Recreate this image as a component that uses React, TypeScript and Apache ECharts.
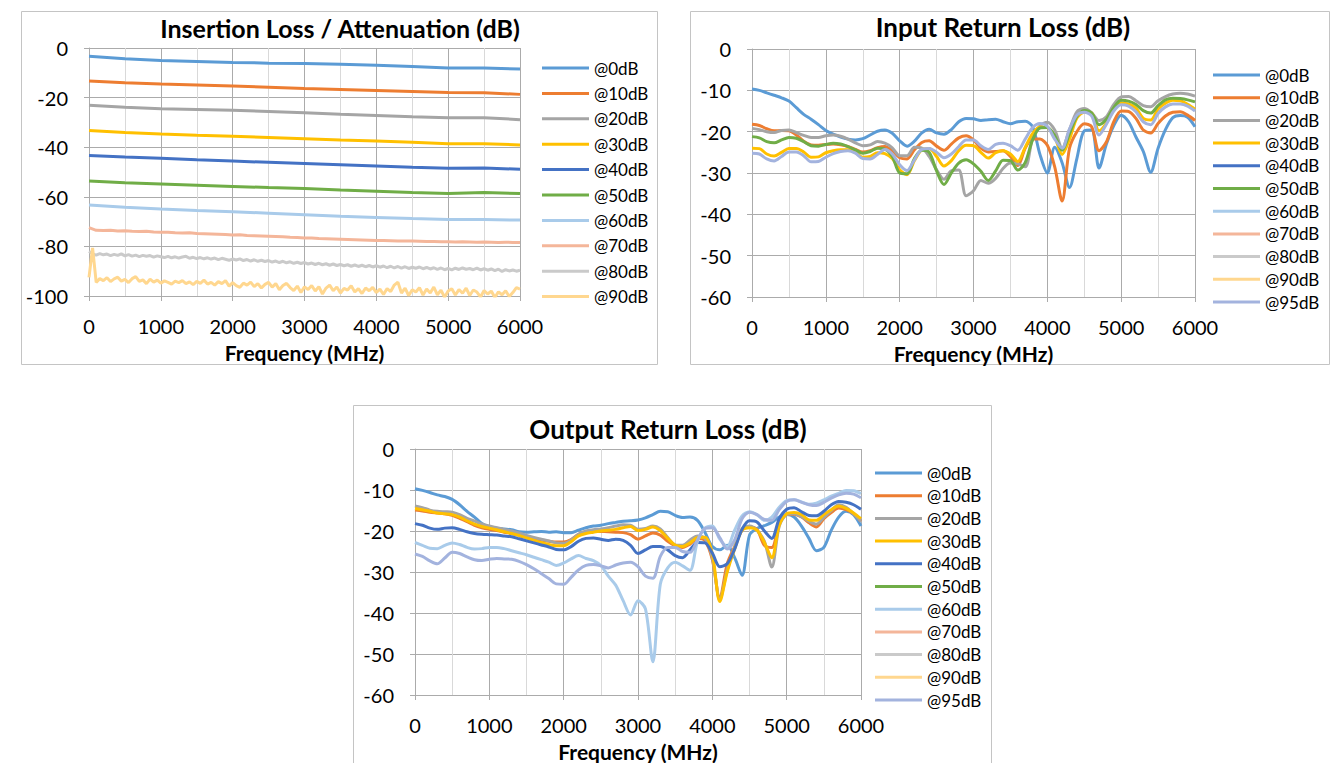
import React, { useEffect, useRef } from "react";
import * as echarts from "echarts";

const FONT = "Lato, 'Liberation Sans', sans-serif";
const MAJOR = "#ABABAB";
const MINOR = "#D9D9D9";

const NAMES = ["@0dB", "@10dB", "@20dB", "@30dB", "@40dB", "@50dB", "@60dB", "@70dB", "@80dB", "@90dB", "@95dB"];
const COLORS = ["#5B9BD5", "#ED7D31", "#A5A5A5", "#FFC000", "#4472C4", "#70AD47", "#A9CBEA", "#F4B69A", "#CACACA", "#FFD78F", "#A3B3DE"];

const TITLES = ["Insertion Loss / Attenuation (dB)", "Input Return Loss (dB)", "Output Return Loss (dB)"];
const X_NAME = "Frequency (MHz)";

// sampling steps (MHz) of the read values
const STEP_500 = 500;
const STEP_100 = 100;
const STEP_50 = 50;
const F_MAX = 6000;

// ---------- Insertion Loss / Attenuation (dB) ----------
const il0 = [-3.3, -4.3, -5.0, -5.4, -5.8, -6.1, -6.3, -6.6, -7.0, -7.5, -8.1, -8.1, -8.5];
const il10 = [-13.3, -14.0, -14.5, -14.9, -15.3, -15.8, -16.3, -16.7, -17.1, -17.5, -17.9, -18.0, -18.7];
const il20 = [-23.1, -23.9, -24.5, -24.8, -25.1, -25.6, -26.1, -26.7, -27.2, -27.7, -28.1, -28.1, -28.9];
const il30 = [-33.3, -34.1, -34.7, -35.2, -35.6, -36.1, -36.6, -37.1, -37.5, -38.0, -38.6, -38.6, -39.1];
const il40 = [-43.3, -44.0, -44.5, -45.1, -45.6, -46.1, -46.6, -47.1, -47.6, -48.1, -48.5, -48.4, -48.9];
const il50 = [-53.6, -54.3, -54.8, -55.3, -55.8, -56.3, -56.7, -57.3, -57.8, -58.3, -58.7, -58.3, -58.7];
const il60 = [-63.3, -64.2, -64.9, -65.5, -66.0, -66.6, -67.2, -67.8, -68.3, -68.8, -69.2, -69.2, -69.4];
const il70 = [
  -72.4, -73.5, -73.6, -73.5, -73.8, -73.7, -73.9, -74.0, -73.9, -74.2,
  -74.3, -74.3, -74.5, -74.6, -74.5, -74.8, -74.9, -75.0, -75.1, -75.2,
  -75.4, -75.3, -75.6, -75.7, -75.8, -75.9, -76.0, -76.1, -76.3, -76.4,
  -76.6, -76.6, -76.8, -76.9, -77.0, -77.1, -77.2, -77.3, -77.4, -77.5,
  -77.6, -77.6, -77.7, -77.8, -77.8, -77.8, -77.9, -78.0, -78.0, -78.1,
  -78.1, -78.2, -78.1, -78.2, -78.3, -78.2, -78.3, -78.4, -78.3, -78.4,
  -78.4,
];
const il80 = [
  -82.0, -83.0, -83.5, -82.9, -83.4, -83.1, -83.7, -83.2, -83.6, -83.0,
  -83.8, -83.3, -83.9, -83.5, -84.1, -83.6, -84.0, -83.7, -84.3, -83.8,
  -84.2, -84.5, -84.0, -84.6, -84.2, -84.7, -84.3, -84.0, -84.8, -84.4,
  -84.9, -84.5, -85.0, -84.6, -85.1, -84.7, -85.3, -84.8, -85.2, -85.6,
  -85.1, -85.5, -85.0, -85.7, -85.3, -85.9, -85.4, -86.0, -85.6, -86.1,
  -85.7, -86.3, -85.9, -86.5, -86.0, -86.6, -86.2, -86.8, -86.4, -86.9,
  -86.5, -87.1, -86.7, -87.3, -86.8, -87.4, -87.0, -87.6, -87.1, -87.7,
  -87.3, -87.8, -87.4, -88.0, -87.5, -88.1, -87.6, -88.2, -87.7, -88.3,
  -87.8, -88.4, -87.9, -88.6, -88.0, -88.7, -88.1, -88.8, -88.2, -88.9,
  -88.4, -88.8, -88.3, -89.0, -88.5, -89.1, -88.6, -89.3, -88.7, -89.4,
  -88.9, -89.5, -88.8, -89.3, -88.7, -89.2, -88.9, -89.4, -88.8, -89.5,
  -89.0, -89.6, -89.1, -89.8, -89.2, -90.1, -89.4, -89.9, -89.5, -90.0,
  -89.6,
];
const il90 = [
  -92.5, -80.6, -94.5, -93.0, -93.8, -92.6, -94.2, -93.1, -92.4, -94.0,
  -93.3, -94.6, -93.0, -92.2, -94.1, -93.5, -95.0, -93.2, -94.4, -93.6,
  -94.8, -93.9, -94.5, -95.2, -94.0, -94.6, -93.8, -95.0, -94.3, -95.4,
  -94.1, -94.9, -93.6, -95.2, -94.5, -95.6, -94.2, -95.0, -93.8, -96.0,
  -94.6, -95.8, -96.5, -94.8, -95.6, -94.4, -96.2, -95.0, -96.8, -95.3,
  -94.5, -96.4, -95.0, -97.5, -95.8, -94.9, -96.6, -97.8, -96.0, -98.6,
  -96.3, -97.4, -95.8, -98.0, -96.2, -99.2, -96.8, -95.6, -97.9, -96.4,
  -98.8, -96.9, -97.6, -95.9, -98.4, -97.0, -99.0, -96.8, -97.9, -96.5,
  -98.6, -97.2, -99.4, -97.0, -98.2, -95.6, -94.4, -98.8, -96.8, -99.8,
  -97.5, -98.4, -96.6, -99.6, -97.2, -98.8, -96.4, -99.5, -97.6, -100.5,
  -98.0, -97.1, -99.6, -97.4, -98.9, -96.8, -99.8, -97.6, -98.4, -100.4,
  -97.8, -99.2, -98.0, -100.6, -98.3, -99.5, -97.9, -100.2, -98.6, -96.6,
  -97.2,
];

// ---------- Input Return Loss (dB), every 100 MHz ----------
const irl0 = [
  -9.7, -10.0, -10.6, -11.2, -11.8, -12.6, -14.2, -15.8, -17.0, -18.3,
  -19.7, -20.6, -21.3, -21.8, -22.0, -21.7, -20.8, -19.9, -19.6, -20.4,
  -22.2, -23.5, -22.3, -20.3, -19.4, -20.3, -20.6, -19.5, -17.6, -16.8,
  -16.9, -17.3, -17.1, -17.0, -17.6, -18.1, -17.6, -17.5, -18.8, -25.5,
  -30.0, -23.8, -27.5, -33.5, -26.5, -19.8, -19.6, -28.8, -23.0, -18.5,
  -16.0, -17.6, -21.3, -24.8, -29.8, -24.0, -19.5, -16.6, -16.1, -16.5,
  -18.8,
];
const irl10 = [
  -18.2, -18.5, -19.3, -19.8, -19.7, -19.8, -20.8, -22.3, -23.2, -23.3,
  -23.1, -23.0, -23.2, -23.6, -24.3, -24.9, -24.6, -23.9, -23.6, -24.6,
  -26.3, -26.6, -24.4, -22.6, -22.2, -23.5, -24.5, -23.0, -21.5, -21.0,
  -22.0, -24.0, -24.9, -24.8, -24.6, -26.0, -28.2, -24.0, -21.8, -21.8,
  -23.3, -28.5, -36.8, -24.0, -20.0, -18.1, -18.8, -24.6, -22.5, -17.6,
  -15.0, -15.1, -16.8, -19.6, -20.3, -18.0, -16.2, -15.3, -15.2, -16.0,
  -17.3,
];
const irl20 = [
  -19.2, -19.5, -20.0, -20.2, -19.7, -19.6, -20.2, -20.9, -21.4, -21.4,
  -21.0, -20.8, -21.1, -21.8, -22.7, -23.4, -23.2, -22.4, -22.8, -23.9,
  -25.8, -25.8, -23.8, -24.0, -26.0, -29.2, -31.5, -29.5, -29.3, -35.5,
  -34.3, -31.8, -32.5, -31.3, -28.9, -27.6, -27.8, -28.5, -21.6, -18.6,
  -17.7, -19.6, -24.0, -19.5, -15.2, -14.4, -15.4, -17.3, -16.4, -13.4,
  -11.6, -11.5, -12.5, -13.7, -14.0, -12.5, -11.5, -10.9, -10.7, -10.9,
  -11.4,
];
const irl30 = [
  -24.0, -24.1, -25.4, -25.9, -25.0, -24.1, -24.1, -24.9, -26.2, -26.1,
  -25.1, -24.6, -24.4, -24.4, -25.0, -26.2, -26.0, -25.1, -25.3, -26.5,
  -29.2, -30.4, -27.0, -24.4, -24.1, -26.0, -28.3, -27.0, -24.6, -23.3,
  -23.4, -25.0, -26.4, -25.1, -24.6, -25.4, -27.2, -23.8, -20.5, -18.9,
  -19.0, -21.3, -25.5, -21.8, -16.7, -15.3, -15.5, -19.8, -17.9, -14.6,
  -13.1, -13.3, -14.3, -16.8, -17.2, -14.5, -13.1, -12.4, -12.5, -13.4,
  -14.6,
];
const irl50 = [
  -21.2, -21.5, -22.4, -22.7, -22.0, -21.4, -21.6, -22.4, -23.4, -23.5,
  -23.1, -22.8, -23.0, -23.6, -24.4, -25.2, -24.8, -24.0, -24.2, -26.0,
  -30.0, -30.2, -26.5, -24.5, -25.0, -29.5, -32.8, -30.0, -27.6, -26.8,
  -27.8, -29.6, -31.8, -29.5, -26.9, -27.0, -29.3, -27.5, -22.0, -19.1,
  -19.0, -21.0, -24.5, -20.5, -16.3, -14.9, -15.5, -18.3, -17.0, -14.2,
  -12.4, -12.6, -13.4, -14.9, -15.5, -13.7, -12.3, -11.9, -12.0, -12.3,
  -12.8,
];
const irl95 = [
  -25.2, -25.4, -26.6, -27.1, -26.0, -24.9, -24.9, -25.8, -27.3, -27.2,
  -26.2, -25.3, -24.8, -24.6, -25.2, -26.5, -26.6, -25.5, -24.3, -25.4,
  -28.0, -29.4, -26.8, -24.3, -24.1, -25.0, -26.3, -25.4, -23.6, -22.0,
  -22.0, -23.4, -24.3, -23.1, -22.8, -23.4, -24.5, -21.8, -19.0, -18.0,
  -18.7, -21.8, -24.0, -19.4, -16.0, -15.3, -16.2, -20.8, -18.2, -15.0,
  -13.5, -13.8, -15.2, -17.6, -18.3, -15.6, -14.0, -13.3, -13.3, -13.8,
  -15.0,
];

// ---------- Output Return Loss (dB), every 100 MHz ----------
const orl0 = [
  -9.7, -10.1, -10.6, -11.2, -11.6, -12.3, -13.6, -15.2, -16.6, -18.2,
  -19.0, -19.3, -19.5, -19.7, -20.2, -20.3, -20.2, -20.1, -20.3, -20.2,
  -20.4, -20.4, -19.8, -19.2, -18.8, -18.6, -18.2, -17.9, -17.6, -17.5,
  -17.3, -16.8, -16.0, -15.2, -15.3, -16.2, -16.7, -16.6, -17.4, -20.3,
  -23.8, -24.6, -23.5, -26.5, -30.8, -21.0, -19.4, -18.7, -17.9, -16.6,
  -16.0, -16.6, -18.8, -21.8, -24.8, -24.0, -19.8, -16.6, -15.2, -16.0,
  -18.8,
];
const orl10 = [
  -14.9, -15.1, -15.4, -15.6, -15.8, -16.2, -16.9, -17.7, -18.6, -19.2,
  -19.6, -19.9, -20.3, -20.6, -21.0, -21.5, -21.9, -22.2, -22.5, -22.7,
  -22.7, -22.1, -20.8, -20.2, -20.0, -20.1, -20.2, -20.3, -20.4, -20.9,
  -22.0, -21.2, -20.5, -21.0, -22.5, -23.6, -24.0, -23.2, -21.8, -22.3,
  -27.0, -36.5, -28.0, -23.8, -19.8, -19.0, -19.6, -23.5, -24.0, -18.3,
  -16.0, -15.9, -16.6, -18.0, -19.0, -17.0, -15.5, -14.4, -14.8, -15.8,
  -17.6,
];
const orl20 = [
  -13.9, -14.3, -14.9, -15.2, -15.3, -15.4, -16.0, -16.9, -17.6, -18.3,
  -18.8, -19.2, -19.6, -20.0, -20.5, -21.1, -21.6, -22.0, -22.4, -22.9,
  -23.0, -22.2, -20.8, -20.0, -19.7, -19.5, -19.2, -18.8, -18.5, -18.6,
  -19.6, -19.4, -18.8, -19.5, -21.6, -23.4, -23.5, -22.2, -21.2, -21.8,
  -26.5, -36.8, -29.5, -24.0, -19.4, -18.8, -19.8, -22.5, -28.8, -18.8,
  -16.0, -15.8, -16.5, -17.6, -18.3, -16.7, -15.0, -13.6, -14.2, -15.8,
  -17.6,
];
const orl30 = [
  -14.5, -14.8, -15.2, -15.6, -15.8, -16.0, -16.6, -17.5, -18.3, -18.9,
  -19.3, -19.7, -20.2, -20.6, -21.1, -21.7, -22.3, -22.8, -23.3, -23.6,
  -23.6, -22.6, -21.2, -20.6, -20.3, -20.0, -19.8, -19.6, -19.2, -18.9,
  -19.9, -19.6, -19.0, -19.9, -21.8, -23.4, -23.8, -22.9, -21.6, -21.5,
  -25.5, -37.2, -30.0, -24.4, -19.8, -19.2, -19.8, -22.8, -26.5, -18.6,
  -15.8, -15.5, -16.0, -17.3, -17.4, -16.0, -14.8, -13.9, -14.5, -15.6,
  -17.0,
];
const orl40 = [
  -18.2, -18.6, -19.3, -19.6, -19.3, -19.2, -19.6, -20.2, -20.6, -20.8,
  -20.9, -21.0, -21.2, -21.4, -21.9, -22.4, -22.9, -23.4, -23.9, -24.5,
  -24.6, -23.8, -22.5, -21.8, -21.7, -22.0, -22.3, -22.0, -22.3, -23.5,
  -25.5, -24.6, -23.8, -23.8, -24.6, -26.0, -26.5, -24.6, -22.8, -22.9,
  -25.4, -28.7, -28.0, -24.4, -19.6, -17.5, -17.8, -20.0, -21.8, -17.0,
  -14.7, -14.3, -15.3, -16.2, -16.3, -15.2, -13.6, -12.8, -13.0, -13.6,
  -14.7,
];
const orl60 = [
  -22.8, -23.5, -24.2, -24.3, -23.5, -22.9, -23.3, -24.0, -24.4, -24.3,
  -24.0, -24.0, -24.3, -24.8, -25.3, -25.8, -26.4, -27.0, -27.6, -28.4,
  -27.8, -26.8, -26.0, -26.7, -27.2, -28.4, -31.0, -33.2, -37.0, -40.5,
  -37.0, -39.0, -51.9, -33.0, -29.0, -27.6, -28.5, -29.6, -22.5, -19.3,
  -18.8, -22.0, -23.8, -19.8, -16.3, -15.3, -16.0, -17.4, -16.6, -14.2,
  -12.6, -12.4, -12.9, -13.5, -13.2, -12.4, -11.5, -10.8, -10.1, -10.2,
  -10.9,
];
const orl95 = [
  -25.6, -26.2, -27.3, -28.0, -26.6, -25.2, -25.5, -26.3, -27.0, -27.2,
  -26.9, -26.7, -26.8, -26.9, -27.4, -28.2, -29.2, -30.4, -31.6, -32.9,
  -33.0, -31.3, -29.5, -28.4, -28.2, -28.5, -29.0, -28.3, -27.8, -27.6,
  -28.7, -31.0, -31.5, -26.2, -24.0, -24.0, -25.0, -25.2, -22.2, -19.4,
  -19.2, -21.6, -24.4, -22.2, -17.0, -15.4, -16.0, -17.2, -17.4, -14.8,
  -12.8, -12.4, -13.0, -13.6, -13.8, -13.0, -12.0, -11.2, -10.8, -11.0,
  -11.9,
];
const EMPTY: number[] = [];

// sampling grid of the frequency axis for a given step
const freqs = (step: number) => {
  const out: number[] = [];
  for (let f = 0; f <= F_MAX; f += step) out.push(f);
  return out;
};
const pairs = (step: number, ys: number[]) => {
  const xs = freqs(step);
  return ys.map((y, i) => [xs[i], y]);
};

type Spec = { idx: number; step: number; ys: number[] };

const PANEL1: Spec[] = [
  { idx: 0, step: STEP_500, ys: il0 },
  { idx: 1, step: STEP_500, ys: il10 },
  { idx: 2, step: STEP_500, ys: il20 },
  { idx: 3, step: STEP_500, ys: il30 },
  { idx: 4, step: STEP_500, ys: il40 },
  { idx: 5, step: STEP_500, ys: il50 },
  { idx: 6, step: STEP_500, ys: il60 },
  { idx: 7, step: STEP_100, ys: il70 },
  { idx: 8, step: STEP_50, ys: il80 },
  { idx: 9, step: STEP_50, ys: il90 },
];
const PANEL2: Spec[] = [
  { idx: 0, step: STEP_100, ys: irl0 },
  { idx: 1, step: STEP_100, ys: irl10 },
  { idx: 2, step: STEP_100, ys: irl20 },
  { idx: 3, step: STEP_100, ys: irl30 },
  { idx: 4, step: STEP_100, ys: EMPTY },
  { idx: 5, step: STEP_100, ys: irl50 },
  { idx: 6, step: STEP_100, ys: EMPTY },
  { idx: 7, step: STEP_100, ys: EMPTY },
  { idx: 8, step: STEP_100, ys: EMPTY },
  { idx: 9, step: STEP_100, ys: EMPTY },
  { idx: 10, step: STEP_100, ys: irl95 },
];
const PANEL3: Spec[] = [
  { idx: 0, step: STEP_100, ys: orl0 },
  { idx: 1, step: STEP_100, ys: orl10 },
  { idx: 2, step: STEP_100, ys: orl20 },
  { idx: 3, step: STEP_100, ys: orl30 },
  { idx: 4, step: STEP_100, ys: orl40 },
  { idx: 5, step: STEP_100, ys: EMPTY },
  { idx: 6, step: STEP_100, ys: orl60 },
  { idx: 7, step: STEP_100, ys: EMPTY },
  { idx: 8, step: STEP_100, ys: EMPTY },
  { idx: 9, step: STEP_100, ys: EMPTY },
  { idx: 10, step: STEP_100, ys: orl95 },
];

function buildOption() {
  const grids = [
    { left: 89, top: 48, width: 431, height: 248 },
    { left: 752, top: 49, width: 443, height: 248 },
    { left: 415, top: 449, width: 446, height: 248 },
  ];
  const yRanges = [
    { min: -100, interval: 20 },
    { min: -60, interval: 10 },
    { min: -60, interval: 10 },
  ];

  const xAxis = grids.map((_, g) => ({
    type: "value",
    gridIndex: g,
    min: 0,
    max: F_MAX,
    interval: 1000,
    name: X_NAME,
    nameLocation: "middle",
    nameGap: 46,
    nameTextStyle: { fontFamily: FONT, fontSize: 21, fontWeight: "bold", color: "#000" },
    axisLine: { show: true, onZero: false, lineStyle: { color: MAJOR } },
    axisTick: { show: true, length: 5, lineStyle: { color: MAJOR } },
    axisLabel: {
      fontFamily: FONT,
      fontSize: 20,
      color: "#000",
      margin: 20,
      formatter: (v: number) => String(v),
    },
    splitLine: { show: true, lineStyle: { color: MAJOR, width: 1 } },
    minorTick: { show: false, splitNumber: 2 },
    minorSplitLine: { show: true, lineStyle: { color: MINOR, width: 1 } },
  }));

  const yAxis = grids.map((_, g) => ({
    type: "value",
    gridIndex: g,
    min: yRanges[g].min,
    max: 0,
    interval: yRanges[g].interval,
    axisLine: { show: true, onZero: false, lineStyle: { color: MAJOR } },
    axisTick: { show: true, length: 5, lineStyle: { color: MAJOR } },
    axisLabel: {
      fontFamily: FONT,
      fontSize: 20,
      color: "#000",
      margin: 21,
      formatter: (v: number) => String(v),
    },
    splitLine: { show: true, lineStyle: { color: MAJOR, width: 1 } },
  }));

  const mk = (specs: Spec[], g: number, smooth: number | boolean) =>
    specs.map((s) => ({
      type: "line",
      name: NAMES[s.idx],
      xAxisIndex: g,
      yAxisIndex: g,
      data: pairs(s.step, s.ys),
      showSymbol: false,
      symbol: "none",
      smooth,
      silent: true,
      color: COLORS[s.idx],
      itemStyle: { color: COLORS[s.idx] },
      lineStyle: { color: COLORS[s.idx], width: 3 },
    }));

  const series = [...mk(PANEL1, 0, false), ...mk(PANEL2, 1, 0.3), ...mk(PANEL3, 2, 0.3)];

  const legendBase = {
    orient: "vertical",
    icon: "rect",
    itemWidth: 47,
    itemHeight: 3,
    selectedMode: false,
    textStyle: { fontFamily: FONT, fontSize: 17, lineHeight: 18, color: "#000" },
  };
  const legend = [
    { ...legendBase, data: NAMES.slice(0, 10), left: 537, top: 54, itemGap: 7.4 },
    { ...legendBase, data: NAMES, left: 1208, top: 61, itemGap: 4.7 },
    { ...legendBase, data: NAMES, left: 870, top: 459, itemGap: 4.7 },
  ];

  const frames = [
    { x: 21.5, y: 11.5, w: 636, h: 353 },
    { x: 690.5, y: 11.5, w: 639, h: 353 },
    { x: 353.5, y: 405.5, w: 638, h: 370 },
  ];
  const titlePos = [
    { x: 340, y: 28, size: 25 },
    { x: 1003, y: 27, size: 26 },
    { x: 668, y: 429, size: 26 },
  ];

  const graphic = [
    ...frames.map((f) => ({
      type: "rect",
      silent: true,
      z: -10,
      shape: { x: f.x, y: f.y, width: f.w, height: f.h },
      style: { fill: "none", stroke: "#C4C4C4", lineWidth: 1 },
    })),
    ...titlePos.map((t, i) => ({
      type: "text",
      silent: true,
      x: t.x,
      y: t.y,
      style: {
        text: TITLES[i],
        fontFamily: FONT,
        fontSize: t.size,
        fontWeight: "bold",
        fill: "#000",
        align: "center",
        verticalAlign: "middle",
      },
    })),
  ];

  return {
    animation: false,
    backgroundColor: "#ffffff",
    grid: grids.map((g) => ({ ...g, containLabel: false })),
    xAxis,
    yAxis,
    legend,
    series,
    graphic,
  };
}

export default function App() {
  const ref = useRef<HTMLDivElement>(null);
  useEffect(() => {
    if (!ref.current) return;
    const chart = echarts.init(ref.current, null, { renderer: "svg" });
    chart.setOption(buildOption() as any);
    return () => chart.dispose();
  }, []);
  return (
    <div
      ref={ref}
      style={{ position: "absolute", left: 0, top: 0, width: 1333, height: 763, background: "#fff" }}
    />
  );
}
